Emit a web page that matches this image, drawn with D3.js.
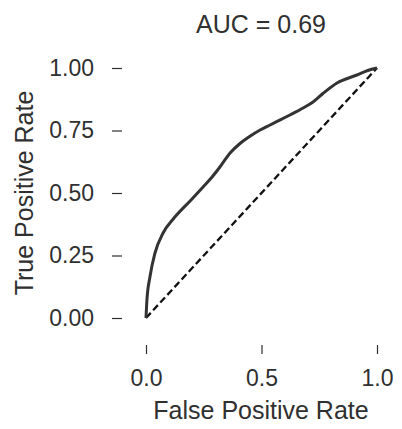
<!DOCTYPE html>
<html lang="en">
<head>
  <meta charset="UTF-8">
  <title>ROC curve</title>
  <script src="https://d3js.org/d3.v7.min.js"></script>
  <style>
    body { margin: 0; background: #fff; }
    text { font-family: "Liberation Sans", Arial, sans-serif; fill: #303030; }
  </style>
</head>
<body>
<div id="chart"></div>
<script>
  // ROC points
  const fpr = [0, 0.004, 0.017, 0.039, 0.074, 0.117, 0.195, 0.247, 0.286, 0.32, 0.364, 0.407, 0.45, 0.494, 0.537, 0.623, 0.68, 0.723, 0.766, 0.827, 0.913, 0.96, 1];
  const tpr = [0, 0.072, 0.164, 0.26, 0.34, 0.395, 0.472, 0.524, 0.564, 0.604, 0.66, 0.698, 0.727, 0.752, 0.772, 0.812, 0.84, 0.864, 0.898, 0.94, 0.972, 0.99, 1];
  const chance = [0, 1];
  const xTicks = [0, 0.5, 1];
  const yTicks = [0, 0.25, 0.5, 0.75, 1];
  const title = "AUC = 0.69";

  const width = 402, height = 429;

  const svg = d3.select('#chart')
    .append('svg')
    .attr('width', width)
    .attr('height', height);

  const x = d3.scaleLinear().domain([0, 1]).range([146, 377]);
  const y = d3.scaleLinear().domain([0, 1]).range([318, 68]);

  // y axis (offset, no spine)
  const yAxis = svg.append('g')
    .attr('transform', 'translate(122,0)')
    .call(d3.axisLeft(y).tickValues(yTicks).tickFormat(d3.format('.2f')).tickSize(10).tickPadding(18));
  yAxis.select('.domain').remove();

  const xAxis = svg.append('g')
    .attr('transform', 'translate(0,345)')
    .call(d3.axisBottom(x).tickValues(xTicks).tickFormat(d3.format('.1f')).tickSize(9).tickPadding(16));
  xAxis.select('.domain').remove();

  svg.selectAll('.tick line').attr('stroke', '#303030').attr('stroke-width', 1.2);
  svg.selectAll('.tick text').attr('font-size', 23).attr('font-family', null).style('fill', '#303030');

  // chance line
  svg.append('path')
    .datum(chance)
    .attr('fill', 'none')
    .attr('stroke', '#111')
    .attr('stroke-width', 2.3)
    .attr('stroke-dasharray', '7,3.5')
    .attr('d', d3.line().x(d => x(d)).y(d => y(d)));

  // ROC curve
  const pts = fpr.map((f, i) => [f, tpr[i]]);
  svg.append('path')
    .datum(pts)
    .attr('fill', 'none')
    .attr('stroke', '#333')
    .attr('stroke-width', 3)
    .attr('stroke-linejoin', 'round')
    .attr('d', d3.line().x(d => x(d[0])).y(d => y(d[1])).curve(d3.curveMonotoneX));

  svg.append('text')
    .attr('x', 261).attr('y', 33)
    .attr('text-anchor', 'middle')
    .attr('font-size', 25)
    .text(title);

  svg.append('text')
    .attr('x', 261).attr('y', 419)
    .attr('text-anchor', 'middle')
    .attr('font-size', 25)
    .text('False Positive Rate');

  svg.append('text')
    .attr('transform', 'translate(33,193) rotate(-90)')
    .attr('text-anchor', 'middle')
    .attr('font-size', 25)
    .text('True Positive Rate');
</script>
</body>
</html>
